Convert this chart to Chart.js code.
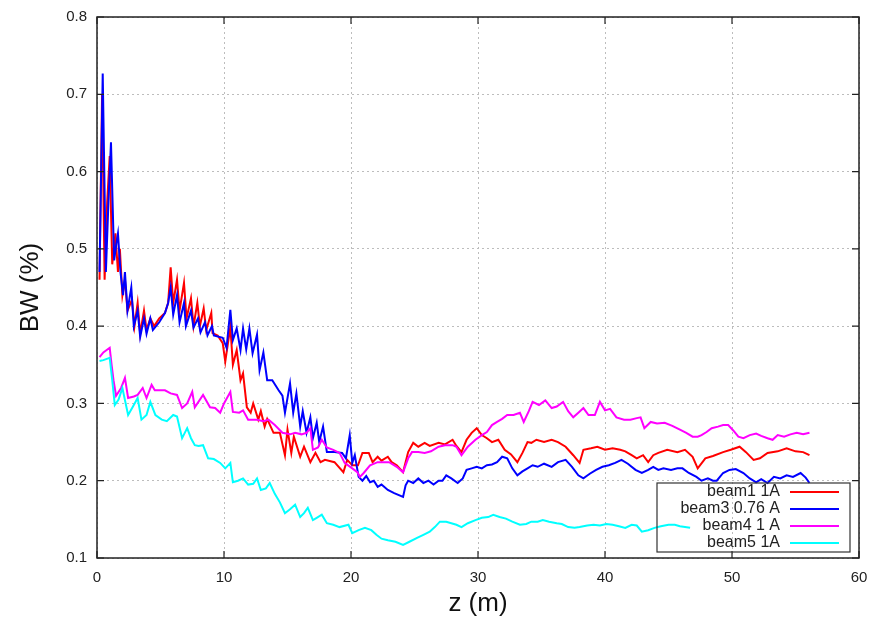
<!DOCTYPE html>
<html>
<head>
<meta charset="utf-8">
<script src="https://cdn.jsdelivr.net/npm/chart.js@4/dist/chart.umd.min.js"></script>
<style>
html,body{margin:0;padding:0;background:#fff;}
#wrap{width:874px;height:619px;}
</style>
</head>
<body>
<div id="wrap"><canvas id="c" width="874" height="619"></canvas></div>
<script>
// ---- data ----
const seriesLabels = ['beam1 1A', 'beam3 0.76 A', 'beam4 1 A', 'beam5 1A'];
const xTicks = [0, 10, 20, 30, 40, 50, 60];
const yTicks = [0.1, 0.2, 0.3, 0.4, 0.5, 0.6, 0.7, 0.8];

const zBeam1 = [0.2,0.4,0.6,0.8,1.0,1.2,1.45,1.65,1.8,2.0,2.2,2.4,2.75,2.95,3.2,3.4,3.7,3.9,4.2,4.5,4.9,5.35,5.6,5.8,6.0,6.3,6.5,6.85,7.05,7.4,7.6,7.9,8.1,8.4,8.6,9.0,9.1,9.5,9.9,10.1,10.5,10.7,11.0,11.3,11.5,11.8,12.1,12.3,12.7,12.9,13.2,13.4,13.9,14.4,14.8,15.0,15.3,15.5,16.0,16.3,16.8,17.2,17.6,17.95,18.7,19.4,19.7,20.1,20.55,20.9,21.4,21.7,22.1,22.4,22.9,23.2,23.6,24.1,24.5,24.9,25.3,25.8,26.2,26.9,27.4,28.0,28.3,28.7,29.1,29.5,29.9,30.3,30.7,31.1,31.6,32.1,32.6,33.1,33.5,33.9,34.2,34.6,35.2,35.8,36.3,36.9,37.5,38.0,38.3,38.9,39.4,40.0,40.6,41.2,41.6,42.1,42.5,43.0,43.4,43.8,44.2,44.9,45.7,46.3,46.9,47.3,47.9,48.5,49.3,49.9,50.6,51.1,51.7,52.2,52.8,53.6,54.3,55.0,55.6,56.1];
const bwBeam1 = [0.46,0.70,0.46,0.56,0.62,0.48,0.52,0.47,0.50,0.44,0.46,0.42,0.434,0.40,0.43,0.39,0.42,0.395,0.41,0.40,0.41,0.417,0.43,0.476,0.43,0.46,0.42,0.456,0.41,0.436,0.40,0.43,0.40,0.423,0.395,0.417,0.391,0.388,0.378,0.354,0.399,0.35,0.369,0.330,0.339,0.295,0.288,0.30,0.279,0.29,0.27,0.28,0.262,0.262,0.233,0.266,0.236,0.257,0.231,0.244,0.224,0.236,0.224,0.227,0.224,0.211,0.227,0.22,0.22,0.236,0.236,0.224,0.231,0.226,0.231,0.224,0.22,0.211,0.237,0.249,0.244,0.249,0.245,0.249,0.247,0.253,0.245,0.237,0.253,0.262,0.268,0.259,0.255,0.25,0.253,0.24,0.234,0.224,0.236,0.25,0.249,0.253,0.25,0.253,0.25,0.244,0.233,0.223,0.24,0.242,0.244,0.24,0.242,0.24,0.238,0.233,0.229,0.233,0.224,0.233,0.236,0.24,0.237,0.24,0.231,0.216,0.229,0.232,0.237,0.24,0.244,0.237,0.227,0.229,0.236,0.238,0.242,0.238,0.237,0.233];

const zBeam3 = [0.2,0.45,0.7,0.9,1.1,1.35,1.55,1.65,1.85,2.05,2.2,2.4,2.7,2.9,3.2,3.4,3.7,3.9,4.2,4.4,4.9,5.35,5.6,5.8,6.0,6.3,6.5,6.85,7.0,7.4,7.6,7.95,8.15,8.5,8.7,9.05,9.2,9.9,10.2,10.5,10.7,11.0,11.3,11.5,11.75,12.0,12.25,12.6,12.8,13.1,13.4,13.8,14.3,14.6,14.8,15.2,15.45,15.7,16.0,16.2,16.5,16.8,17.0,17.3,17.5,17.8,18.1,18.7,19.3,19.6,19.9,20.1,20.3,20.6,20.9,21.2,21.5,21.8,22.1,22.4,22.9,23.4,24.1,24.3,24.5,24.9,25.3,25.7,26.1,26.5,26.9,27.2,27.5,27.9,28.4,28.8,29.1,29.5,29.9,30.3,30.7,31.1,31.5,31.9,32.3,32.7,33.1,33.5,33.9,34.3,34.7,35.2,35.8,36.3,36.9,37.4,37.9,38.3,38.8,39.3,39.8,40.3,40.8,41.3,41.8,42.4,42.9,43.4,43.8,44.2,44.6,45.2,45.7,46.1,46.6,47.2,47.6,48.1,48.5,48.8,49.3,49.8,50.3,50.9,51.4,51.9,52.3,52.8,53.3,53.8,54.3,54.8,55.4,55.8,56.1];
const bwBeam3 = [0.47,0.727,0.47,0.56,0.638,0.485,0.51,0.52,0.47,0.44,0.47,0.42,0.45,0.40,0.42,0.386,0.41,0.39,0.41,0.395,0.405,0.417,0.43,0.45,0.415,0.44,0.405,0.43,0.40,0.42,0.398,0.41,0.392,0.405,0.388,0.40,0.388,0.385,0.372,0.421,0.382,0.397,0.369,0.397,0.37,0.397,0.365,0.389,0.343,0.366,0.33,0.33,0.317,0.31,0.288,0.326,0.288,0.313,0.27,0.29,0.262,0.282,0.255,0.275,0.25,0.27,0.237,0.237,0.236,0.229,0.259,0.223,0.233,0.205,0.2,0.206,0.198,0.2,0.192,0.195,0.188,0.184,0.179,0.194,0.2,0.197,0.203,0.197,0.2,0.195,0.2,0.2,0.207,0.203,0.197,0.203,0.214,0.216,0.218,0.216,0.22,0.221,0.224,0.231,0.229,0.216,0.207,0.212,0.216,0.22,0.218,0.222,0.218,0.224,0.227,0.218,0.207,0.203,0.209,0.214,0.218,0.22,0.223,0.227,0.222,0.214,0.21,0.214,0.218,0.214,0.216,0.214,0.216,0.216,0.21,0.205,0.2,0.203,0.2,0.2,0.21,0.214,0.215,0.21,0.203,0.198,0.202,0.197,0.205,0.203,0.207,0.205,0.21,0.204,0.197];

const zBeam4 = [0.2,0.5,1.0,1.15,1.3,1.5,1.9,2.2,2.45,2.9,3.2,3.6,3.9,4.3,4.55,5.35,5.8,6.3,6.7,7.1,7.5,7.7,8.35,8.9,9.3,9.7,10.0,10.5,10.7,11.2,11.5,11.9,12.6,13.1,13.5,14.0,14.6,15.2,15.6,16.1,16.5,16.8,17.0,17.4,17.7,18.1,18.6,19.1,19.5,20.1,20.5,20.7,21.0,21.5,22.1,22.6,23.0,23.6,24.1,24.5,24.8,25.3,25.8,26.3,26.9,27.4,28.0,28.3,28.7,29.2,29.8,30.3,30.7,31.1,31.5,31.9,32.3,32.8,33.3,33.6,34.0,34.3,34.8,35.3,35.8,36.2,36.7,37.1,37.5,37.9,38.3,38.7,39.2,39.6,40.0,40.4,40.9,41.5,42.0,42.5,42.8,43.1,43.6,44.1,44.7,45.3,45.9,46.4,46.9,47.3,47.6,48.0,48.4,48.9,49.3,49.7,50.1,50.5,50.9,51.4,51.9,52.3,52.8,53.2,53.6,54.1,54.6,55.1,55.6,56.1];
const bwBeam4 = [0.36,0.366,0.372,0.35,0.33,0.31,0.32,0.333,0.307,0.309,0.311,0.32,0.307,0.324,0.317,0.317,0.313,0.311,0.294,0.30,0.315,0.295,0.311,0.295,0.294,0.288,0.30,0.315,0.289,0.288,0.291,0.279,0.279,0.277,0.279,0.272,0.262,0.26,0.262,0.26,0.262,0.268,0.24,0.243,0.253,0.243,0.24,0.236,0.223,0.216,0.211,0.205,0.21,0.22,0.224,0.224,0.224,0.218,0.211,0.229,0.237,0.237,0.236,0.238,0.244,0.246,0.246,0.244,0.233,0.244,0.253,0.259,0.263,0.272,0.276,0.28,0.285,0.285,0.288,0.276,0.29,0.302,0.298,0.304,0.294,0.296,0.302,0.29,0.282,0.288,0.294,0.285,0.285,0.302,0.291,0.293,0.282,0.279,0.279,0.281,0.282,0.268,0.276,0.274,0.275,0.271,0.266,0.262,0.257,0.257,0.259,0.263,0.268,0.27,0.272,0.272,0.265,0.257,0.255,0.259,0.261,0.258,0.255,0.253,0.259,0.257,0.26,0.262,0.26,0.262];

const zBeam5 = [0.2,0.5,1.0,1.2,1.4,1.7,2.0,2.45,2.8,3.2,3.5,3.9,4.2,4.6,5.1,5.5,6.0,6.3,6.7,7.1,7.4,7.7,8.0,8.35,8.75,9.2,9.7,10.1,10.5,10.7,11.1,11.5,11.9,12.3,12.6,12.9,13.3,13.6,14.0,14.4,14.8,15.2,15.6,16.0,16.3,16.6,17.0,17.3,17.7,18.1,18.6,19.1,19.8,20.1,20.6,21.1,21.6,22.0,22.4,22.9,23.5,24.1,24.6,25.2,25.7,26.2,26.6,27.0,27.5,28.3,28.7,29.2,29.8,30.3,30.8,31.2,31.7,32.2,32.7,33.3,33.8,34.2,34.7,35.1,35.6,36.2,36.6,37.1,37.6,38.0,38.6,39.1,39.6,40.1,40.6,41.1,41.6,42.1,42.5,42.9,43.4,43.9,44.4,45.0,45.5,45.9,46.3,46.7];
const bwBeam5 = [0.355,0.356,0.359,0.33,0.298,0.305,0.32,0.285,0.295,0.307,0.279,0.285,0.302,0.285,0.279,0.277,0.285,0.283,0.255,0.268,0.255,0.246,0.245,0.246,0.229,0.228,0.223,0.216,0.223,0.198,0.2,0.203,0.195,0.196,0.203,0.188,0.19,0.197,0.183,0.172,0.158,0.163,0.169,0.153,0.158,0.165,0.149,0.152,0.156,0.145,0.143,0.14,0.143,0.132,0.136,0.139,0.136,0.13,0.125,0.123,0.121,0.117,0.121,0.126,0.13,0.134,0.14,0.147,0.147,0.143,0.14,0.145,0.149,0.152,0.153,0.156,0.153,0.151,0.147,0.143,0.144,0.147,0.147,0.149,0.147,0.145,0.144,0.14,0.139,0.14,0.142,0.143,0.142,0.144,0.143,0.141,0.139,0.143,0.142,0.134,0.136,0.139,0.141,0.143,0.143,0.141,0.14,0.139];

const seriesColors = ['#ff0000', '#0000ff', '#ff00ff', '#00ffff'];

function pts(xs, ys) { return xs.map((x, i) => ({x: x, y: ys[i]})); }
const allSeries = [[zBeam1, bwBeam1], [zBeam3, bwBeam3], [zBeam4, bwBeam4], [zBeam5, bwBeam5]];

const datasets = allSeries.map((s, i) => ({
  label: seriesLabels[i],
  data: pts(s[0], s[1]),
  borderColor: seriesColors[i],
  backgroundColor: seriesColors[i],
  borderWidth: 2,
  pointRadius: 0,
  tension: 0,
  fill: false,
  order: 4 - i
}));

const frameLegendPlugin = {
  id: 'frameLegend',
  afterDatasetsDraw(chart) {
    const ctx = chart.ctx;
    const a = chart.chartArea;
    const xs = chart.scales.x, ys = chart.scales.y;
    ctx.save();
    ctx.strokeStyle = '#222';
    ctx.lineWidth = 1.5;
    ctx.strokeRect(a.left, a.top, a.right - a.left, a.bottom - a.top);
    ctx.lineWidth = 1.2;
    ctx.beginPath();
    xs.ticks.forEach(t => {
      const px = xs.getPixelForValue(t.value);
      ctx.moveTo(px, a.bottom); ctx.lineTo(px, a.bottom - 7);
      ctx.moveTo(px, a.top); ctx.lineTo(px, a.top + 7);
    });
    ys.ticks.forEach(t => {
      const py = ys.getPixelForValue(t.value);
      ctx.moveTo(a.left, py); ctx.lineTo(a.left + 7, py);
      ctx.moveTo(a.right, py); ctx.lineTo(a.right - 7, py);
    });
    ctx.stroke();

    // legend (gnuplot style key, bottom right inside plot)
    const bx = a.right - 202, by = a.bottom - 75, bw = 193, bh = 69;
    ctx.strokeStyle = '#333';
    ctx.lineWidth = 1.2;
    ctx.strokeRect(bx, by, bw, bh);
    ctx.font = '16px "Liberation Sans", Arial, sans-serif';
    ctx.fillStyle = '#222';
    ctx.textAlign = 'right';
    ctx.textBaseline = 'middle';
    chart.data.datasets.forEach((d, i) => {
      const y = by + 9 + i * 17;
      ctx.fillText(d.label, bx + 123, y);
      ctx.strokeStyle = d.borderColor;
      ctx.lineWidth = 2;
      ctx.beginPath();
      ctx.moveTo(bx + 133, y); ctx.lineTo(bx + 182, y);
      ctx.stroke();
    });
    ctx.restore();
  }
};

new Chart(document.getElementById('c'), {
  type: 'line',
  data: { datasets: datasets },
  options: {
    responsive: false,
    animation: false,
    layout: { padding: { left: 0, right: 15, top: 17, bottom: 0 } },
    plugins: { legend: { display: false }, tooltip: { enabled: false } },
    scales: {
      x: {
        type: 'linear',
        min: 0, max: 60,
        afterBuildTicks: s => { s.ticks = xTicks.map(v => ({value: v})); },
        afterFit: s => { s.height = 61; s.paddingLeft = 0; s.paddingRight = 0; },
        grid: { color: '#bdbdbd', lineWidth: 1, drawTicks: false },
        border: { display: false, dash: [2, 3] },
        ticks: {
          padding: 11,
          color: '#222',
          maxRotation: 0,
          font: { family: '"Liberation Sans Narrow", "Liberation Sans", Arial, sans-serif', size: 15 },
          callback: v => String(v)
        },
        title: {
          display: true, text: 'z (m)', color: '#111',
          padding: { top: 0, bottom: 0 },
          font: { family: '"Liberation Sans Narrow", "Liberation Sans", Arial, sans-serif', size: 26 }
        }
      },
      y: {
        type: 'linear',
        min: 0.1, max: 0.8,
        afterBuildTicks: s => { s.ticks = yTicks.map(v => ({value: v})); },
        afterFit: s => { s.width = 97; s.paddingTop = 0; s.paddingBottom = 0; },
        grid: { color: '#bdbdbd', lineWidth: 1, drawTicks: false },
        border: { display: false, dash: [2, 3] },
        ticks: {
          padding: 10,
          color: '#222',
          font: { family: '"Liberation Sans", Arial, sans-serif', size: 15 },
          callback: v => Number(v).toFixed(1)
        },
        title: {
          display: true, text: 'BW (%)', color: '#111',
          padding: { top: 15, bottom: 0 },
          font: { family: '"Liberation Sans", Arial, sans-serif', size: 26 }
        }
      }
    }
  },
  plugins: [frameLegendPlugin]
});
</script>
</body>
</html>
